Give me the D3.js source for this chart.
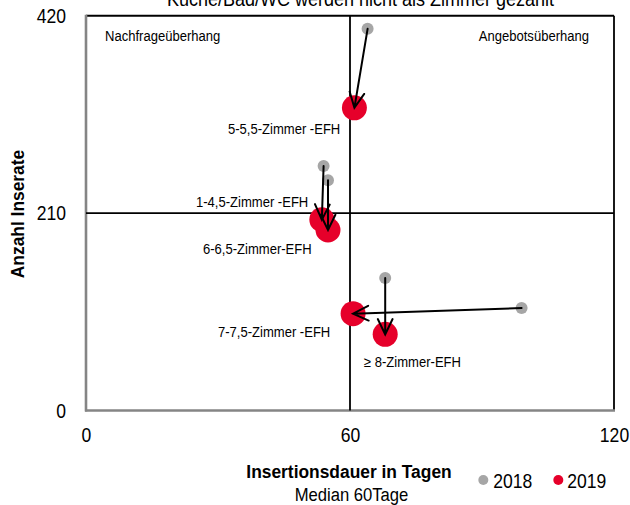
<!DOCTYPE html>
<html><head><meta charset="utf-8">
<script src="https://cdn.jsdelivr.net/npm/d3@7"></script>
<style>html,body{margin:0;padding:0;background:#fff}svg{display:block}text{font-family:'Liberation Sans',Arial,sans-serif;fill:#000}</style>
</head><body>
<svg id="c" width="630" height="505"></svg>
<script>
const categories = ["1-4,5-Zimmer -EFH","5-5,5-Zimmer -EFH","6-6,5-Zimmer-EFH","7-7,5-Zimmer -EFH","≥ 8-Zimmer-EFH"];
const days2018 = [54, 64, 55, 99, 68];
const ads2018  = [260, 406, 245, 109, 141];
const days2019 = [53.6, 61, 55, 60.7, 68];
const ads2019  = [203, 322, 192, 103, 81];
const xTicks = [0, 60, 120];
const yTicks = [0, 210, 420];
const medianDays = 60;
const medianAds = 210;
const seriesNames = ["2018","2019"];
const title = "Küche/Bad/WC werden nicht als Zimmer gezählt";

const svg = d3.select("#c");
const x = d3.scaleLinear().domain([0,120]).range([86,614]);
const y = d3.scaleLinear().domain([0,420]).range([410.5,15.7]);
const gray = "#a6a6a6", red = "#e6002a";

function txt(g, s, px, py, opt) {
  const t = g.append("text")
    .attr("transform", `translate(${px},${py})${opt.rot?` rotate(${opt.rot})`:""} scale(${opt.sx||0.9},1)`)
    .attr("text-anchor", opt.anchor||"start")
    .style("font-size", (opt.size||14.5)+"px")
    .style("font-weight", opt.bold?"bold":"normal")
    .text(s);
  return t;
}

// title (cut at top, as in the reference)
txt(svg, title, 167, 5.5, {size:20});

// axes via d3
const ya = svg.append("g").attr("transform","translate(86,0)")
  .call(d3.axisLeft(y).tickValues(yTicks).tickSize(0).tickPadding(20).tickFormat(d3.format("d")));
ya.select(".domain").remove();
ya.selectAll("text").style("font-size","19.5px").style("font-family","'Liberation Sans',Arial,sans-serif")
  .attr("x",-22.2).attr("dy","0.35em").attr("transform","scale(0.9,1)");
const xa = svg.append("g").attr("transform","translate(0,410.5)")
  .call(d3.axisBottom(x).tickValues(xTicks).tickSize(0).tickPadding(17.5).tickFormat(d3.format("d")));
xa.select(".domain").remove();
xa.selectAll("text").style("font-size","19.5px").style("font-family","'Liberation Sans',Arial,sans-serif")
  .attr("transform","scale(0.9,1)");

// frame
svg.append("line").attr("x1",x(0)).attr("x2",x(120)).attr("y1",y(420)).attr("y2",y(420)).attr("stroke","#000").attr("stroke-width",2);
svg.append("line").attr("x1",x(120)).attr("x2",x(120)).attr("y1",y(420)).attr("y2",y(0)).attr("stroke","#000").attr("stroke-width",1.8);
svg.append("line").attr("x1",x(0)).attr("x2",x(0)).attr("y1",y(420)-1).attr("y2",y(0)+1).attr("stroke","#858585").attr("stroke-width",2.6);
svg.append("line").attr("x1",x(0)-1).attr("x2",x(120)+1).attr("y1",y(0)).attr("y2",y(0)).attr("stroke","#858585").attr("stroke-width",2.6);
// median cross
svg.append("line").attr("x1",x(medianDays)).attr("x2",x(medianDays)).attr("y1",y(420)).attr("y2",y(0)).attr("stroke","#000").attr("stroke-width",1.8);
svg.append("line").attr("x1",x(0)).attr("x2",x(120)).attr("y1",y(medianAds)).attr("y2",y(medianAds)).attr("stroke","#000").attr("stroke-width",1.6);

// quadrant labels
txt(svg, "Nachfrageüberhang", 105, 41, {size:14.5});
txt(svg, "Angebotsüberhang", 589, 41, {size:14.5, anchor:"end"});

// points
const data = categories.map((c,i)=>({c, x0:days2018[i], y0:ads2018[i], x1:days2019[i], y1:ads2019[i]}));
svg.append("g").selectAll("circle").data(data).join("circle")
  .attr("cx",d=>x(d.x0)).attr("cy",d=>y(d.y0)).attr("r",6).attr("fill",gray);
svg.append("g").selectAll("circle").data(data).join("circle")
  .attr("cx",d=>x(d.x1)).attr("cy",d=>y(d.y1)).attr("r",12.5).attr("fill",red);

// arrows
const ag = svg.append("g").attr("stroke","#000").attr("stroke-width",2).attr("fill","none").attr("stroke-linecap","round");
data.forEach(d=>{
  const sx=x(d.x0), sy=y(d.y0), ex=x(d.x1), ey=y(d.y1);
  const a = Math.atan2(ey-sy, ex-sx);
  const L = 17, h = 0.45;
  const p1 = [ex - L*Math.cos(a-h), ey - L*Math.sin(a-h)];
  const p2 = [ex - L*Math.cos(a+h), ey - L*Math.sin(a+h)];
  ag.append("path").attr("d", `M${sx},${sy}L${ex},${ey}M${p1[0]},${p1[1]}L${ex},${ey}L${p2[0]},${p2[1]}`);
});

// category labels
const labelPos = [[196,207],[228,134],[203,254],[218,337],[364,367]];
categories.forEach((c,i)=>txt(svg, c, labelPos[i][0], labelPos[i][1], {size:14.5}));

// axis titles
txt(svg, "Anzahl Inserate", 24, 214, {size:18.5, bold:true, rot:-90, sx:0.94, anchor:"middle"});
txt(svg, "Insertionsdauer in Tagen", 349, 478, {size:18.5, bold:true, sx:0.94, anchor:"middle"});
txt(svg, "Median 60Tage", 351.5, 500.5, {size:18.5, anchor:"middle"});

// legend
const lg = svg.append("g");
[[483.3,493.3,gray],[558.3,567.3,red]].forEach((p,i)=>{
  lg.append("circle").attr("cx",p[0]).attr("cy",480).attr("r",5).attr("fill",p[2]);
  txt(lg, seriesNames[i], p[1], 487.5, {size:19.5});
});
</script>
</body></html>
